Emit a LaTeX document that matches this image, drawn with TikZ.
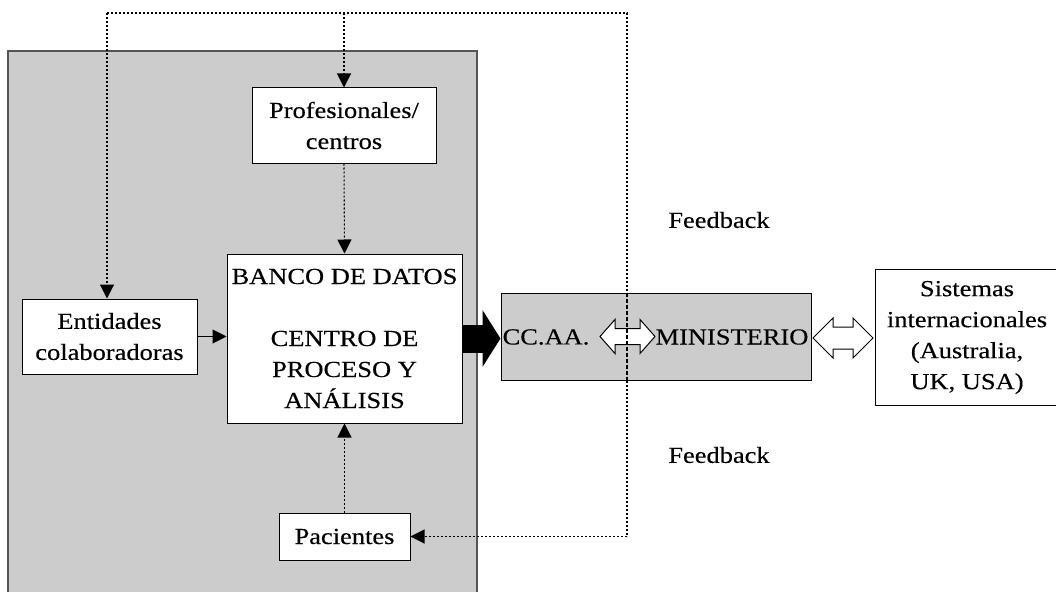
\documentclass[tikz,border=0pt]{standalone}
\usepackage{fontspec}
\setmainfont{Liberation Serif}[FakeStretch=1.15,FakeBold=0.35]
\usetikzlibrary{arrows.meta,calc}
\definecolor{panel}{HTML}{CCCCCC}
\definecolor{panelline}{HTML}{555555}
\tikzset{
  box/.style={draw, line width=1pt, fill=white, align=center, inner sep=0pt,
    font=\fontsize{23}{31}\selectfont},
  lbl/.style={inner sep=0pt, font=\fontsize{23}{31}\selectfont},
  dots/.style={line width=1.1pt, dash pattern=on 2pt off 2pt},
  tri/.style={-{Triangle[length=14pt,width=14pt]}},
  hollow/.style={draw, line width=1pt, fill=white, line join=miter}
}
\begin{document}
\begin{tikzpicture}[x=1pt,y=-1pt]
\useasboundingbox (0,0) rectangle (1056,591);
% big gray panel
\draw[fill=panel, draw=panelline, line width=1.5pt] (8,51) rectangle (477,610);
% nodes
\node[box, minimum width=184, minimum height=75] (prof) at (344,125.5) {Profesionales/\\centros};
\node[box, minimum width=235, minimum height=169] (banco) at (344.5,338.5)
  {BANCO DE DATOS\\[31pt]CENTRO DE\\PROCESO Y\\ANÁLISIS};
\node[box, minimum width=175, minimum height=75] (ent) at (109.5,336.5) {Entidades\\colaboradoras};
\node[box, minimum width=131, minimum height=47] (pac) at (344.5,536.5) {Pacientes};
\node[draw, fill=panel, line width=1pt, minimum width=310, minimum height=87, inner sep=0pt] (ccaa) at (656,336.5) {};
\node[lbl] (cc) at (546,337) {CC.AA.};
\node[lbl] (min) at (732,337) {MINISTERIO};
\node[box, minimum width=183, minimum height=136, anchor=north west] (sist) at (875,269)
  {Sistemas\\internacionales\\(Australia,\\UK, USA)};
\node[lbl] (fb1) at (719,220) {Feedback};
\node[lbl] (fb2) at (719,455) {Feedback};
% hollow double arrows
\draw[hollow] (600,336.5) -- (615,319.5) -- (615,328.5) -- (640,328.5) -- (640,319.5)
  -- (655,336.5) -- (640,353.5) -- (640,344.5) -- (615,344.5) -- (615,353.5) -- cycle;
\draw[hollow] (813,338) -- (833,318) -- (833,327) -- (853,327) -- (853,318)
  -- (873,338) -- (853,358) -- (853,349) -- (833,349) -- (833,358) -- cycle;
% feedback loop
\coordinate (tl) at (107,13);
\coordinate (tr) at (627,13);
\coordinate (br) at (627,536.5);
\draw[dots] (tl) -- (tr) -- (ccaa.north -| tr);
\draw[line width=2pt, dash pattern=on 4pt off 2pt] (ccaa.north -| tr) -- (ccaa.south -| tr);
\draw[dots] (ccaa.south -| tr) -- (br);
\draw[dots, tri] (br) -- (pac.east);
\draw[dots, tri] (tl) -- (tl |- ent.north);
\draw[dots, tri] (prof.north |- tl) -- (prof.north);
\draw[dots, tri] (prof.south) -- (banco.north);
\draw[dots, tri] (pac.north) -- (banco.south);
\draw[line width=1pt, tri] (ent.east) -- (ent.east -| banco.west);
% big black arrow
\draw[line width=28pt, -{Triangle[length=18pt,width=56pt]}] (banco.east) -- (banco.east -| ccaa.west);
\end{tikzpicture}
\end{document}
